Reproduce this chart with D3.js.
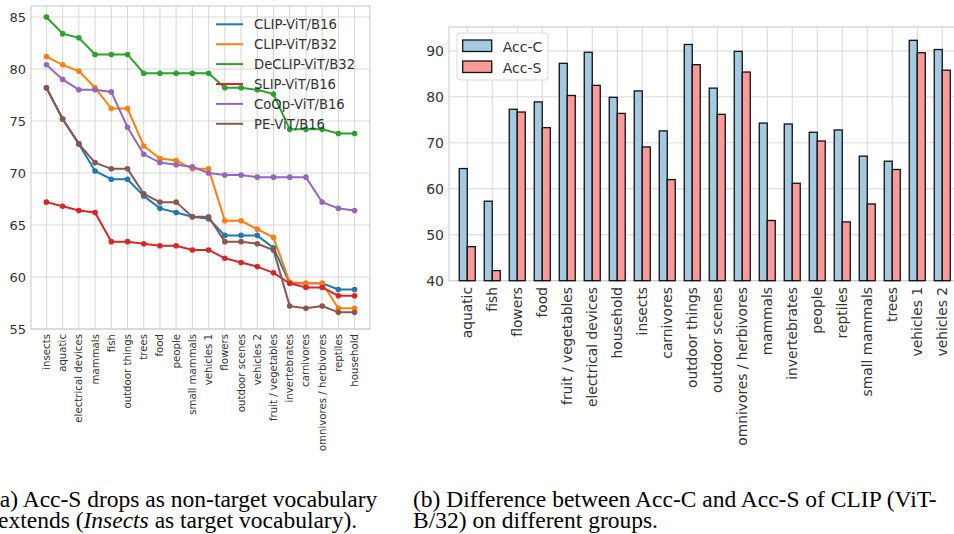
<!DOCTYPE html>
<html>
<head>
<meta charset="utf-8">
<script src="https://cdn.jsdelivr.net/npm/d3@7"></script>
<style>
  body { margin: 0; background: #fff; }
  svg { display: block; }
  .tick text { fill: #333; font-family: "DejaVu Sans", sans-serif; }
</style>
</head>
<body>
<svg id="chart" width="954" height="534"></svg>
<script>
// ---- data, left chart (Acc-S as vocabulary extends)
const groupsA = ["insects", "aquatic", "electrical devices", "mammals", "fish", "outdoor things",
  "trees", "food", "people", "small mammals", "vehicles 1", "flowers", "outdoor scenes",
  "vehicles 2", "fruit / vegetables", "invertebrates", "carnivores", "omnivores / herbivores",
  "reptiles", "household"];

const clipB16 = [78.2, 75.2, 72.8, 70.2, 69.4, 69.4, 67.8, 66.6, 66.2, 65.8, 65.6, 64.0, 64.0, 64.0, 62.8, 59.4, 59.4, 59.4, 58.8, 58.8];
const clipB32 = [81.2, 80.4, 79.8, 78.2, 76.2, 76.2, 72.6, 71.4, 71.2, 70.4, 70.4, 65.4, 65.4, 64.6, 63.8, 59.5, 59.4, 59.4, 57.0, 57.0];
const declipB32 = [85.0, 83.4, 83.0, 81.4, 81.4, 81.4, 79.6, 79.6, 79.6, 79.6, 79.6, 78.2, 78.2, 78.0, 77.6, 74.2, 74.2, 74.2, 73.8, 73.8];
const slipB16 = [67.2, 66.8, 66.4, 66.2, 63.4, 63.4, 63.2, 63.0, 63.0, 62.6, 62.6, 61.8, 61.4, 61.0, 60.4, 59.4, 59.0, 59.0, 58.2, 58.2];
const coopB16 = [80.4, 79.0, 78.0, 78.0, 77.8, 74.4, 71.8, 71.0, 70.8, 70.6, 70.0, 69.8, 69.8, 69.6, 69.6, 69.6, 69.6, 67.2, 66.6, 66.4];
const peB16 = [78.2, 75.2, 72.8, 71.0, 70.4, 70.4, 68.0, 67.2, 67.2, 65.8, 65.8, 63.4, 63.4, 63.2, 62.6, 57.2, 57.0, 57.2, 56.6, 56.6];

const seriesA = [
  {name: "CLIP-ViT/B16", color: "#1f77b4", values: clipB16},
  {name: "CLIP-ViT/B32", color: "#ff7f0e", values: clipB32},
  {name: "DeCLIP-ViT/B32", color: "#2ca02c", values: declipB32},
  {name: "SLIP-ViT/B16", color: "#d62728", values: slipB16},
  {name: "CoOp-ViT/B16", color: "#9467bd", values: coopB16},
  {name: "PE-ViT/B16", color: "#8c564b", values: peB16}
];
const yTicksA = [55, 60, 65, 70, 75, 80, 85];

// ---- data, right chart (Acc-C vs Acc-S of CLIP ViT-B/32)
const groupsB = ["aquatic", "fish", "flowers", "food", "fruit / vegetables", "electrical devices",
  "household", "insects", "carnivores", "outdoor things", "outdoor scenes", "omnivores / herbivores",
  "mammals", "invertebrates", "people", "reptiles", "small mammals", "trees", "vehicles 1", "vehicles 2"];
const accC = [64.4, 57.3, 77.3, 78.9, 87.3, 89.7, 79.9, 81.3, 72.6, 91.4, 81.9, 89.9, 74.3, 74.1, 72.3, 72.8, 67.1, 66.0, 92.3, 90.3];
const accS = [47.4, 42.2, 76.7, 73.3, 80.3, 82.5, 76.4, 69.1, 62.0, 87.0, 76.2, 85.4, 53.1, 61.2, 70.4, 52.8, 56.7, 64.2, 89.6, 85.8];
const yTicksB = [40, 50, 60, 70, 80, 90];

const svg = d3.select("#chart");
const font = "DejaVu Sans, sans-serif";
const gridColor = "#d6d6d6";

// ================= left chart =================
const xA = d3.scaleLinear().domain([-0.95, groupsA.length - 0.05]).range([31, 370]);
const yA = d3.scaleLinear().domain([55, 86.06]).range([329, 6]);

const gA = svg.append("g");

// grid
gA.append("g").selectAll("line.v").data(groupsA).join("line")
  .attr("x1", (d, i) => xA(i)).attr("x2", (d, i) => xA(i))
  .attr("y1", yA.range()[0]).attr("y2", yA.range()[1])
  .attr("stroke", gridColor).attr("stroke-width", 1);
gA.append("g").selectAll("line.h").data(yTicksA).join("line")
  .attr("x1", xA.range()[0]).attr("x2", xA.range()[1])
  .attr("y1", d => yA(d)).attr("y2", d => yA(d))
  .attr("stroke", gridColor).attr("stroke-width", 1);
gA.append("rect")
  .attr("x", xA.range()[0]).attr("y", yA.range()[1])
  .attr("width", xA.range()[1] - xA.range()[0]).attr("height", yA.range()[0] - yA.range()[1])
  .attr("fill", "none").attr("stroke", "#cfcfcf").attr("stroke-width", 1.2);

// y axis
gA.append("g")
  .attr("transform", `translate(${xA.range()[0]},0)`)
  .call(d3.axisLeft(yA).tickValues(yTicksA).tickSize(0).tickPadding(5))
  .call(g => g.select(".domain").remove())
  .selectAll("text").style("font-size", "13px").style("font-family", font);

// x labels
gA.append("g").selectAll("text").data(groupsA).join("text")
  .attr("transform", (d, i) => `translate(${xA(i) + 3.5},334) rotate(-90)`)
  .attr("text-anchor", "end")
  .attr("fill", "#333")
  .style("font-family", font).style("font-size", "10.2px")
  .text(d => d);

// lines + markers
const lineA = d3.line().x((d, i) => xA(i)).y(d => yA(d));
seriesA.forEach(s => {
  gA.append("path").datum(s.values)
    .attr("d", lineA).attr("fill", "none")
    .attr("stroke", s.color).attr("stroke-width", 2);
  gA.append("g").selectAll("circle").data(s.values).join("circle")
    .attr("cx", (d, i) => xA(i)).attr("cy", d => yA(d)).attr("r", 2.8)
    .attr("fill", s.color);
});

// legend
const legA = gA.append("g").attr("transform", "translate(216,24.3)");
seriesA.forEach((s, i) => {
  const row = legA.append("g").attr("transform", `translate(0,${i * 19.9})`);
  row.append("line").attr("x1", 0).attr("x2", 27).attr("stroke", s.color).attr("stroke-width", 2);
  row.append("text").attr("x", 38).attr("y", 4.7)
    .attr("fill", "#333").style("font-family", font).style("font-size", "13.2px")
    .text(s.name);
});

// ================= right chart =================
const step = 25;
const xB = d3.scaleLinear().domain([-0.73, groupsB.length - 0.27]).range([449, 449 + step * (groupsB.length + 0.46)]);
const yB = d3.scaleLinear().domain([40, 95.2]).range([280.7, 27]);
const barW = 0.32;

const gB = svg.append("g");

gB.append("g").selectAll("line").data(groupsB).join("line")
  .attr("x1", (d, i) => xB(i)).attr("x2", (d, i) => xB(i))
  .attr("y1", yB.range()[0]).attr("y2", yB.range()[1])
  .attr("stroke", gridColor).attr("stroke-width", 1);
gB.append("g").selectAll("line").data(yTicksB).join("line")
  .attr("x1", xB.range()[0]).attr("x2", xB.range()[1])
  .attr("y1", d => yB(d)).attr("y2", d => yB(d))
  .attr("stroke", gridColor).attr("stroke-width", 1);
gB.append("rect")
  .attr("x", xB.range()[0]).attr("y", yB.range()[1])
  .attr("width", xB.range()[1] - xB.range()[0]).attr("height", yB.range()[0] - yB.range()[1])
  .attr("fill", "none").attr("stroke", "#cfcfcf").attr("stroke-width", 1.2);

gB.append("g")
  .attr("transform", `translate(${xB.range()[0]},0)`)
  .call(d3.axisLeft(yB).tickValues(yTicksB).tickSize(0).tickPadding(5))
  .call(g => g.select(".domain").remove())
  .selectAll("text").style("font-size", "14px").style("font-family", font);

// bars
gB.append("g").selectAll("rect").data(accC).join("rect")
  .attr("x", (d, i) => xB(i - barW)).attr("width", xB(barW) - xB(0))
  .attr("y", d => yB(d)).attr("height", d => yB(40) - yB(d))
  .attr("fill", "#a3cae0").attr("stroke", "#111").attr("stroke-width", 1.3);
gB.append("g").selectAll("rect").data(accS).join("rect")
  .attr("x", (d, i) => xB(i)).attr("width", xB(barW) - xB(0))
  .attr("y", d => yB(d)).attr("height", d => yB(40) - yB(d))
  .attr("fill", "#fb9a99").attr("stroke", "#111").attr("stroke-width", 1.3);

// x labels
gB.append("g").selectAll("text").data(groupsB).join("text")
  .attr("transform", (d, i) => `translate(${xB(i) + 5},287) rotate(-90)`)
  .attr("text-anchor", "end")
  .attr("fill", "#333")
  .style("font-family", font).style("font-size", "13.8px")
  .text(d => d);

// legend
const legB = gB.append("g").attr("transform", "translate(457,33)");
legB.append("rect").attr("width", 91).attr("height", 47).attr("rx", 3)
  .attr("fill", "#fff").attr("fill-opacity", 0.85).attr("stroke", "#d9d9d9");
[["Acc-C", "#a3cae0"], ["Acc-S", "#fb9a99"]].forEach((e, i) => {
  legB.append("rect").attr("x", 5.7).attr("y", 7 + i * 21).attr("width", 29).attr("height", 11.5)
    .attr("fill", e[1]).attr("stroke", "#111").attr("stroke-width", 1.3);
  legB.append("text").attr("x", 45.7).attr("y", 18.5 + i * 21)
    .attr("fill", "#333").style("font-family", font).style("font-size", "14px")
    .text(e[0]);
});

// ================= captions =================
const cap = svg.append("g").style("font-family", "Liberation Serif, serif").style("font-size", "23.5px").attr("fill", "#000");
cap.append("text").attr("x", -8).attr("y", 507).text("(a) Acc-S drops as non-target vocabulary");
const c2 = cap.append("text").attr("x", -2).attr("y", 527.5);
c2.append("tspan").text("extends (");
c2.append("tspan").style("font-style", "italic").text("Insects");
c2.append("tspan").text(" as target vocabulary).");
cap.append("text").attr("x", 413).attr("y", 507).text("(b) Difference between Acc-C and Acc-S of CLIP (ViT-");
cap.append("text").attr("x", 413).attr("y", 527.5).text("B/32) on different groups.");
</script>
</body>
</html>
